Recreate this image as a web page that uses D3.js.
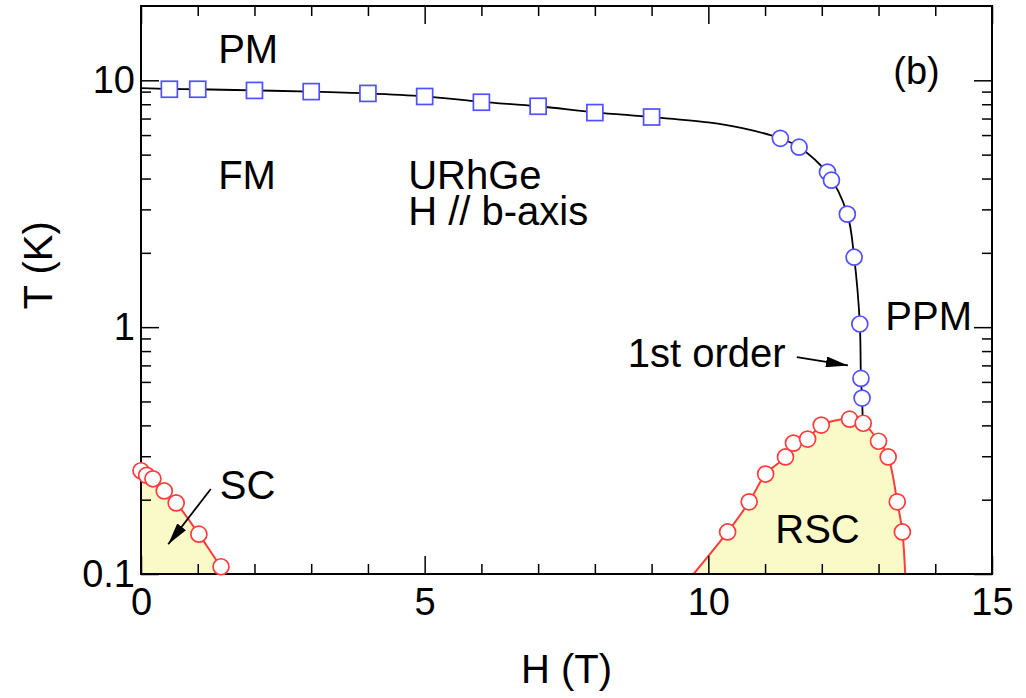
<!DOCTYPE html>
<html>
<head>
<meta charset="utf-8">
<script src="https://cdn.jsdelivr.net/npm/d3@7"></script>
<style>
  body { margin: 0; background: #fff; }
  svg text { font-family: "Liberation Sans", Arial, Helvetica, sans-serif; fill: #000; }
</style>
</head>
<body>
<div id="viz"></div>
<script>
// ferromagnetic transition, squares (low field)
const fmSquareH = [0.5, 1, 2, 3, 4, 5, 6, 7, 8, 9];
const fmSquareT = [9.2, 9.2, 9.1, 9.0, 8.85, 8.6, 8.15, 7.85, 7.4, 7.1];

// ferromagnetic transition, circles (high field)
const fmCircleH = [11.27, 11.6, 12.1, 12.17, 12.45, 12.57, 12.67, 12.69, 12.71];
const fmCircleT = [5.82, 5.36, 4.25, 3.94, 2.87, 1.92, 1.03, 0.62, 0.516];

// black guide line through the FM boundary
const fmLineH = [0, 0.5, 1, 2, 3, 4, 5, 6, 7, 8, 9, 10, 10.6, 11.27, 11.6, 12.1, 12.45, 12.57, 12.67, 12.69, 12.71, 12.72];
const fmLineT = [9.3, 9.22, 9.2, 9.1, 9.0, 8.85, 8.6, 8.18, 7.85, 7.42, 7.1, 6.75, 6.4, 5.82, 5.36, 4.2, 2.87, 1.92, 1.03, 0.62, 0.516, 0.43];

// superconductivity at low field
const scH = [0, 0.1, 0.21, 0.41, 0.62, 1.02, 1.41];
const scT = [0.262, 0.251, 0.243, 0.217, 0.194, 0.145, 0.107];
const scLineH = [0, 0.1, 0.21, 0.41, 0.62, 1.02, 1.41, 1.52];
const scLineT = [0.257, 0.251, 0.243, 0.217, 0.194, 0.145, 0.107, 0.1];

// reentrant superconductivity
const rscH = [10.34, 10.72, 11.01, 11.36, 11.5, 11.75, 11.99, 12.49, 12.73, 13.0, 13.17, 13.33, 13.42];
const rscT = [0.148, 0.196, 0.254, 0.298, 0.339, 0.352, 0.401, 0.424, 0.408, 0.345, 0.298, 0.196, 0.148];
const rscLineH = [9.74, 10.34, 10.72, 11.01, 11.36, 11.5, 11.75, 11.99, 12.49, 12.73, 13.0, 13.17, 13.33, 13.42, 13.47];
const rscLineT = [0.1, 0.148, 0.196, 0.254, 0.298, 0.339, 0.352, 0.401, 0.424, 0.408, 0.345, 0.298, 0.196, 0.148, 0.1];

const xMajor = [0, 5, 10, 15];
const xMinor = [1, 2, 3, 4, 6, 7, 8, 9, 11, 12, 13, 14];
const yMajor = [0.1, 1, 10];
const yMinor = [0.2, 0.3, 0.4, 0.5, 0.6, 0.7, 0.8, 0.9, 2, 3, 4, 5, 6, 7, 8, 9];

// text labels: [text, H, T]
const labels = [
  ["PM", 1.36, 11.8],
  ["FM", 1.36, 3.62],
  ["URhGe", 4.71, 3.62],
  ["H // b-axis", 4.71, 2.59],
  ["PPM", 13.12, 0.972],
  ["1st order", 8.58, 0.689],
  ["SC", 1.39, 0.201],
  ["RSC", 11.18, 0.134]
];
// arrows: [H0, T0, H1, T1]
const arrows = [
  [11.56, 0.756, 12.46, 0.70],
  [1.23, 0.221, 0.48, 0.132]
];

const width = 1026, height = 698;
const margin = {top: 6, right: 34, bottom: 124, left: 141};

const svg = d3.select("#viz").append("svg")
  .attr("width", width)
  .attr("height", height);

const x = d3.scaleLinear().domain([0, 15]).range([margin.left, width - margin.right]);
const y = d3.scaleLog().domain([0.1, 20]).range([height - margin.bottom, margin.top]);

const zip = (hs, ts) => hs.map((h, i) => ({h: h, t: ts[i]}));

svg.append("clipPath").attr("id", "plot")
  .append("rect")
  .attr("x", x(0)).attr("y", y(20))
  .attr("width", x(15) - x(0)).attr("height", y(0.1) - y(20));

const plot = svg.append("g").attr("clip-path", "url(#plot)");

const yellow = "#fafac8";
const red = "#ff3c3c";
const blue = "#5050ff";

const lineGen = d3.line()
  .x(d => x(d.h)).y(d => y(d.t))
  .curve(d3.curveCatmullRom.alpha(0.5));

// filled regions
const areaPath = pts => lineGen(pts) + "Z";
plot.append("path")
  .attr("d", areaPath([{h: 0, t: 0.1}].concat(zip(scLineH, scLineT))))
  .attr("fill", yellow);
plot.append("path")
  .attr("d", areaPath(zip(rscLineH, rscLineT)))
  .attr("fill", yellow);

// boundary lines
plot.append("path").attr("d", lineGen(zip(scLineH, scLineT)))
  .attr("fill", "none").attr("stroke", red).attr("stroke-width", 2);
plot.append("path").attr("d", lineGen(zip(rscLineH, rscLineT)))
  .attr("fill", "none").attr("stroke", red).attr("stroke-width", 2);
plot.append("path").attr("d", lineGen(zip(fmLineH, fmLineT)))
  .attr("fill", "none").attr("stroke", "#000").attr("stroke-width", 1.8);

// axes with inward ticks on all four sides
const addAxis = (axis, tx, ty, vals, size, pad) => {
  const g = svg.append("g").attr("transform", `translate(${tx},${ty})`)
    .call(axis.tickValues(vals).tickSize(-size).tickPadding(pad || 0)
      .tickFormat(pad ? (d => String(d)) : ""));
  g.select(".domain").remove();
  g.selectAll("line").attr("stroke", "#000").attr("stroke-width", 1.5);
  g.selectAll("text").style("font-size", "38px");
  return g;
};
const yBottom = y(0.1), yTop = y(20), xLeft = x(0), xRight = x(15);
addAxis(d3.axisBottom(x), 0, yBottom, xMajor, 18, 14);
addAxis(d3.axisBottom(x), 0, yBottom, xMinor, 10, 0);
addAxis(d3.axisTop(x), 0, yTop, xMajor, 18, 0);
addAxis(d3.axisTop(x), 0, yTop, xMinor, 10, 0);
addAxis(d3.axisLeft(y), xLeft, 0, yMajor, 18, 6);
addAxis(d3.axisLeft(y), xLeft, 0, yMinor, 10, 0);
addAxis(d3.axisRight(y), xRight, 0, yMajor, 18, 0);
addAxis(d3.axisRight(y), xRight, 0, yMinor, 10, 0);

svg.append("rect")
  .attr("x", xLeft).attr("y", yTop)
  .attr("width", xRight - xLeft).attr("height", yBottom - yTop)
  .attr("fill", "none").attr("stroke", "#000").attr("stroke-width", 2);

// markers (drawn unclipped, over the frame)
const r = 8;
svg.selectAll(".sq").data(zip(fmSquareH, fmSquareT)).join("rect")
  .attr("x", d => x(d.h) - r).attr("y", d => y(d.t) - r)
  .attr("width", 2 * r).attr("height", 2 * r)
  .attr("fill", "#fff").attr("stroke", blue).attr("stroke-width", 1.7);
svg.selectAll(".fc").data(zip(fmCircleH, fmCircleT)).join("circle")
  .attr("cx", d => x(d.h)).attr("cy", d => y(d.t)).attr("r", r)
  .attr("fill", "#fff").attr("stroke", blue).attr("stroke-width", 1.7);
svg.selectAll(".sc").data(zip(scH, scT).concat(zip(rscH, rscT))).join("circle")
  .attr("cx", d => x(d.h)).attr("cy", d => y(d.t)).attr("r", r)
  .attr("fill", "#fff").attr("stroke", red).attr("stroke-width", 1.7);

// axis titles
svg.append("text")
  .attr("x", (xLeft + xRight) / 2).attr("y", 683)
  .attr("text-anchor", "middle").style("font-size", "40px")
  .text("H (T)");
svg.append("text")
  .attr("transform", `translate(52,${y(1.78)}) rotate(-90)`)
  .attr("text-anchor", "middle").style("font-size", "40px")
  .text("T (K)");

// annotations
svg.selectAll(".lbl").data(labels).join("text")
  .attr("x", d => x(d[1])).attr("y", d => y(d[2]))
  .style("font-size", "40px")
  .text(d => d[0]);
svg.append("text")
  .attr("x", x(13.26)).attr("y", y(9.7))
  .style("font-size", "38px")
  .text("(b)");

svg.append("defs").append("marker")
  .attr("id", "head").attr("viewBox", "0 0 20 10")
  .attr("refX", 20).attr("refY", 5)
  .attr("markerWidth", 22).attr("markerHeight", 11)
  .attr("markerUnits", "userSpaceOnUse")
  .attr("orient", "auto")
  .append("path").attr("d", "M0,0L20,5L0,10Z").attr("fill", "#000");
svg.selectAll(".arr").data(arrows).join("line")
  .attr("x1", d => x(d[0])).attr("y1", d => y(d[1]))
  .attr("x2", d => x(d[2])).attr("y2", d => y(d[3]))
  .attr("stroke", "#000").attr("stroke-width", 1.8)
  .attr("marker-end", "url(#head)");
</script>
</body>
</html>
